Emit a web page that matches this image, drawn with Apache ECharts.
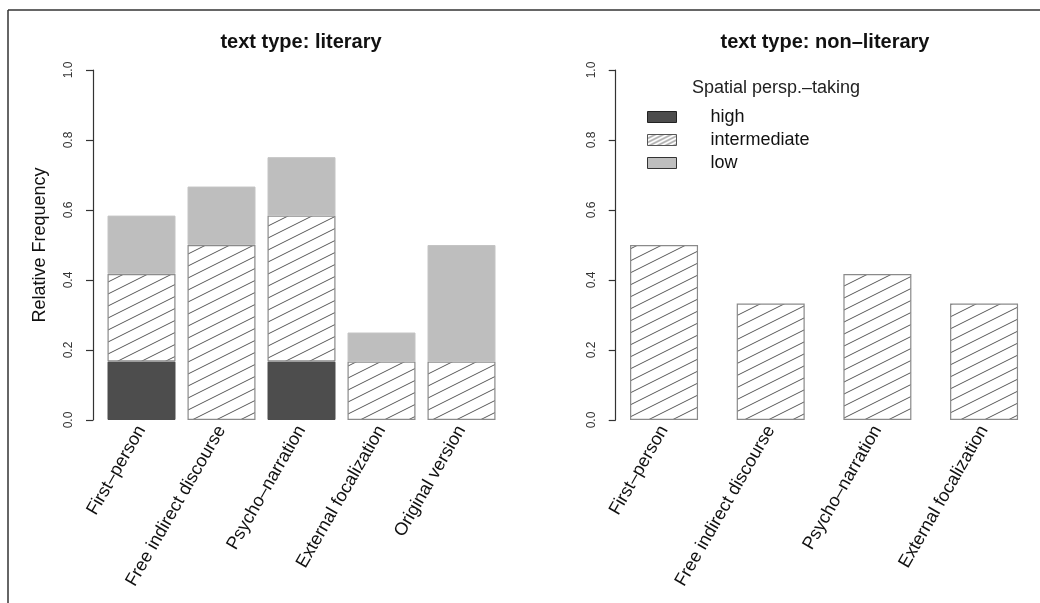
<!DOCTYPE html>
<html>
<head>
<meta charset="utf-8">
<script src="https://cdn.jsdelivr.net/npm/echarts@6/dist/echarts.min.js"></script>
<style>
  html, body { margin: 0; padding: 0; background: #fff; }
  #chart { width: 1040px; height: 603px; }
</style>
</head>
<body>
<div id="chart"></div>
<script>
// Narrative perspective conditions per text type
const categoriesLiterary = ['First–person', 'Free indirect discourse', 'Psycho–narration', 'External focalization', 'Original version'];
const categoriesNonLiterary = ['First–person', 'Free indirect discourse', 'Psycho–narration', 'External focalization'];

// Relative frequency of spatial perspective-taking levels
const literaryHigh = [0.167, 0, 0.167, 0, 0];
const literaryIntermediate = [0.25, 0.5, 0.417, 0.167, 0.167];
const literaryLow = [0.167, 0.167, 0.167, 0.083, 0.333];

const nonLiteraryHigh = [0, 0, 0, 0];
const nonLiteraryIntermediate = [0.5, 0.333, 0.417, 0.333];
const nonLiteraryLow = [0, 0, 0, 0];

const levelNames = ['high', 'intermediate', 'low'];
const yTickValues = [0, 0.2, 0.4, 0.6, 0.8, 1.0];

const FONT = '"Liberation Sans", Arial, Helvetica, sans-serif';

// Diagonal hatching tile (lines rising to the right)
function makeHatch(w, h, lw, color) {
  const c = document.createElement('canvas');
  c.width = w; c.height = h;
  const ctx = c.getContext('2d');
  ctx.fillStyle = '#ffffff';
  ctx.fillRect(0, 0, w, h);
  ctx.strokeStyle = color;
  ctx.lineWidth = lw;
  for (let k = -1; k <= 1; k++) {
    ctx.beginPath();
    ctx.moveTo(-w, 2 * h + k * h);
    ctx.lineTo(2 * w, -h + k * h);
    ctx.stroke();
  }
  return c;
}
const hatchBar = { image: makeHatch(24, 12, 0.9, '#444444'), repeat: 'repeat' };
const hatchKey = { image: makeHatch(8, 4, 0.8, '#3a3a3a'), repeat: 'repeat' };

const styles = {
  high: { color: '#4d4d4d', borderColor: '#4d4d4d', borderWidth: 1 },
  intermediate: { color: hatchBar, borderColor: '#8a8a8a', borderWidth: 1.2 },
  low: { color: '#bebebe', borderColor: '#c4c4c4', borderWidth: 1 }
};

const nz = arr => arr.map(v => (v === 0 ? null : v));

function yAxisFor(gridIndex, withName, offset) {
  return {
    type: 'value', gridIndex: gridIndex, min: 0, max: 1, interval: 0.2,
    offset: offset,
    name: withName ? 'Relative Frequency' : '',
    nameLocation: 'middle', nameRotate: 90, nameGap: 44,
    nameTextStyle: { fontFamily: FONT, fontSize: 18, color: '#111' },
    axisLine: { show: true, lineStyle: { color: '#333', width: 1.2 } },
    axisTick: { show: true, length: 7, lineStyle: { color: '#333', width: 1.2 } },
    splitLine: { show: false },
    axisLabel: {
      rotate: 90, margin: 18, fontFamily: FONT, fontSize: 12, color: '#333',
      formatter: v => (yTickValues.some(t => Math.abs(t - v) < 1e-9) ? v.toFixed(1) : '')
    }
  };
}

function xAxisFor(gridIndex, cats) {
  return {
    type: 'category', gridIndex: gridIndex, data: cats,
    axisLine: { show: false }, axisTick: { show: false },
    axisLabel: { interval: 0, rotate: 60, margin: 7, fontFamily: FONT, fontSize: 18, color: '#111' }
  };
}

function seriesFor(gridIndex, stack, high, inter, low) {
  const vals = [high, inter, low];
  return levelNames.map((name, i) => ({
    name: name, type: 'bar', stack: stack,
    xAxisIndex: gridIndex, yAxisIndex: gridIndex,
    barWidth: 68, data: nz(vals[i]),
    itemStyle: styles[name],
    emphasis: { disabled: true }
  }));
}

const chart = echarts.init(document.getElementById('chart'), null, { renderer: 'canvas' });
chart.setOption({
  animation: false,
  backgroundColor: '#ffffff',
  title: [
    { text: 'text type: literary', left: 296, top: 27, textAlign: 'center',
      textStyle: { fontFamily: FONT, fontSize: 20, fontWeight: 'bold', color: '#111' } },
    { text: 'text type: non–literary', left: 820, top: 27, textAlign: 'center',
      textStyle: { fontFamily: FONT, fontSize: 20, fontWeight: 'bold', color: '#111' } },
    { text: 'Spatial persp.–taking', left: 687, top: 74,
      textStyle: { fontFamily: FONT, fontSize: 18, fontWeight: 'normal', color: '#222' } }
  ],
  legend: {
    orient: 'vertical', left: 642, top: 103,
    itemWidth: 29, itemHeight: 11, itemGap: 5,
    selectedMode: false,
    textStyle: { fontFamily: FONT, fontSize: 18, color: '#111', padding: [0, 0, 0, 29] },
    data: [
      { name: 'high', icon: 'rect', itemStyle: { color: '#4d4d4d', borderColor: '#222', borderWidth: 1 } },
      { name: 'intermediate', icon: 'rect', itemStyle: { color: hatchKey, borderColor: '#555', borderWidth: 1 } },
      { name: 'low', icon: 'rect', itemStyle: { color: '#bebebe', borderColor: '#333', borderWidth: 1 } }
    ]
  },
  grid: [
    { left: 101.5, top: 70, width: 400, height: 350, containLabel: false },
    { left: 610.7, top: 70, width: 426.7, height: 350, containLabel: false }
  ],
  xAxis: [xAxisFor(0, categoriesLiterary), xAxisFor(1, categoriesNonLiterary)],
  yAxis: [yAxisFor(0, true, 8.5), yAxisFor(1, false, -5)],
  series: [
    ...seriesFor(0, 'literary', literaryHigh, literaryIntermediate, literaryLow),
    ...seriesFor(1, 'nonliterary', nonLiteraryHigh, nonLiteraryIntermediate, nonLiteraryLow)
  ],
  graphic: [
    { type: 'line', shape: { x1: 8, y1: 10, x2: 1040, y2: 10 }, style: { stroke: '#333', lineWidth: 1.5 } },
    { type: 'line', shape: { x1: 8, y1: 10, x2: 8, y2: 603 }, style: { stroke: '#333', lineWidth: 1.5 } }
  ]
});
</script>
</body>
</html>
